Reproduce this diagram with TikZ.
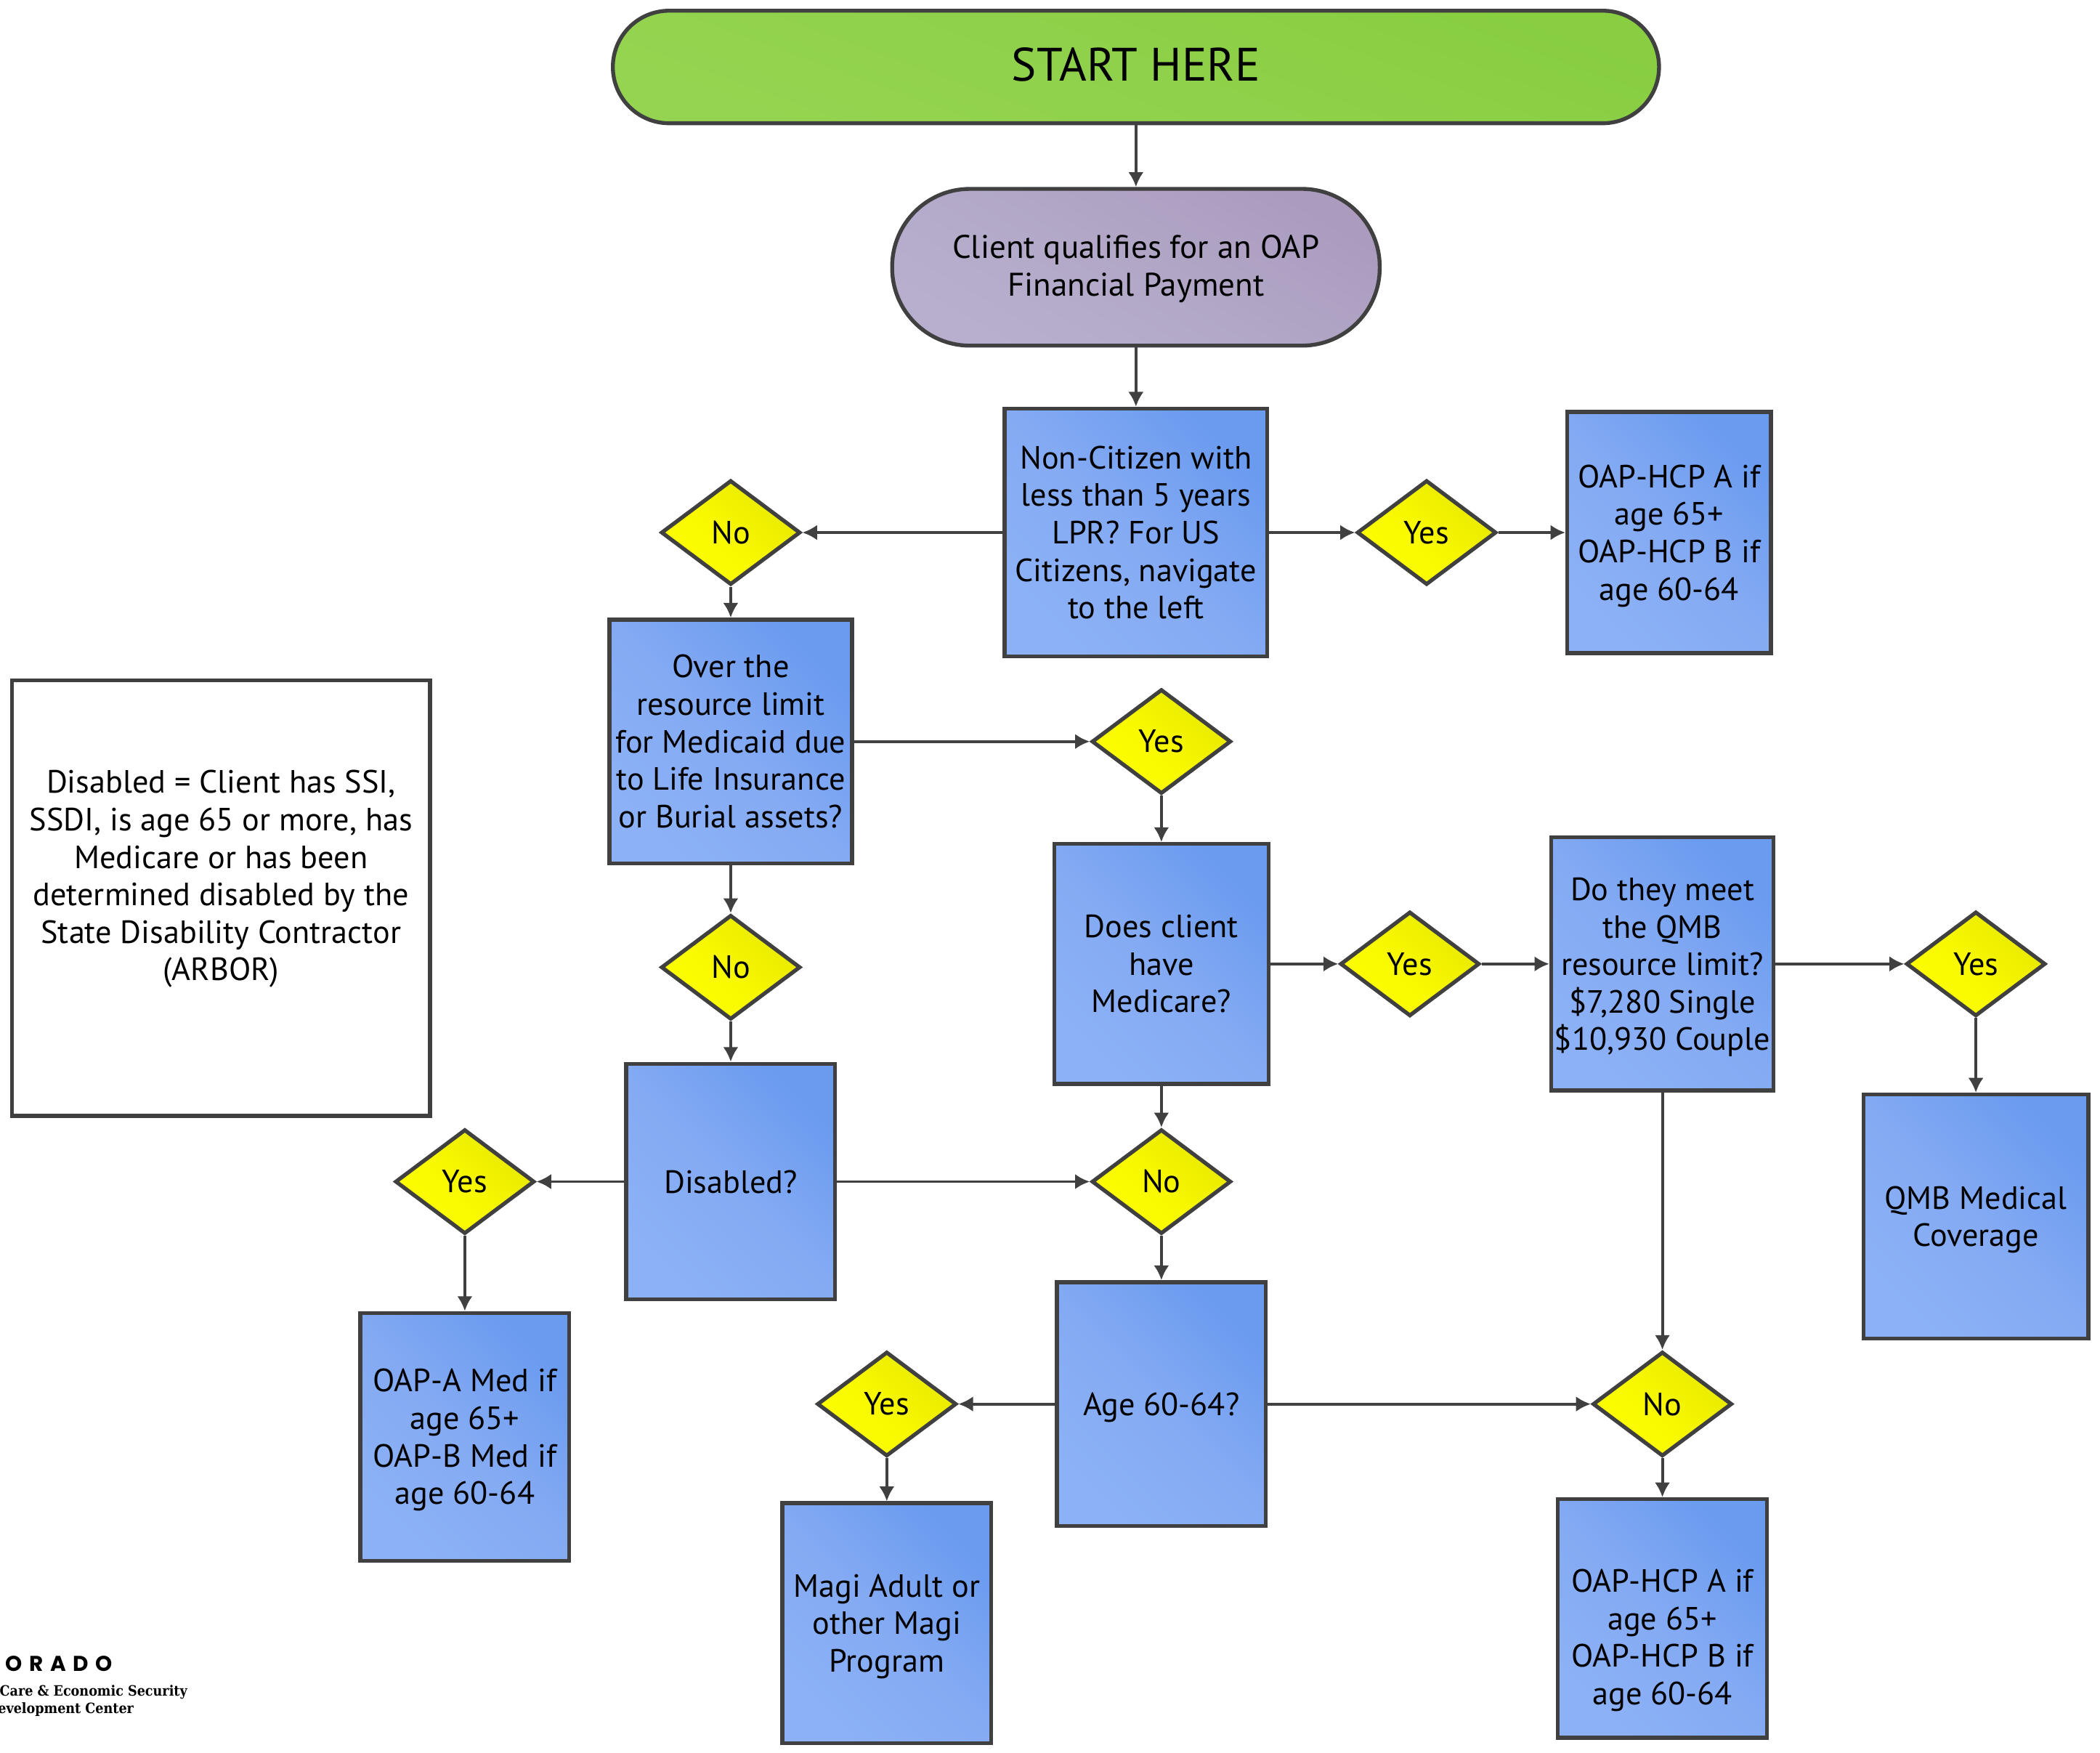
\documentclass[tikz,border=0pt]{standalone}
\usepackage{fontspec}
\setmainfont{PT Sans}
\newfontfamily\logosans[LetterSpace=32]{Poppins}
\newfontfamily\logoslab{DejaVu Serif Condensed}
\usetikzlibrary{arrows.meta,shapes.geometric}
\definecolor{edgegray}{HTML}{404040}
\definecolor{boxdark}{HTML}{6A9BEF}
\definecolor{boxmid}{HTML}{84AAF3}
\definecolor{boxlight}{HTML}{8CB1F6}
\definecolor{yndark}{HTML}{E8E800}
\definecolor{ynmid}{HTML}{F7F700}
\definecolor{ynlight}{HTML}{FFFF00}
\definecolor{startdark}{HTML}{88CE40}
\definecolor{startmid}{HTML}{8FD14A}
\definecolor{startlight}{HTML}{95D450}
\definecolor{clientdark}{HTML}{AB9CBF}
\definecolor{clientmid}{HTML}{B2A7C7}
\definecolor{clientlight}{HTML}{B8AFCF}
\tikzset{
  base/.style={draw=edgegray, line width=2.9pt, align=center, inner sep=0pt, text=black, font=\fontsize{24}{28}\selectfont},
  qbox/.style={base, rectangle, top color=boxdark, bottom color=boxlight, middle color=boxmid, shading angle=-45},
  pill/.style={base, rectangle, rounded corners=#1},
  yn/.style={base, diamond, shape aspect=1.33, minimum width=104pt, minimum height=78pt, top color=yndark, bottom color=ynlight, middle color=ynmid, shading angle=-45},
  link/.style={draw=edgegray, line width=2.1pt, -{Latex[length=11pt,width=11.5pt]}},
  logoname/.style={anchor=east, inner sep=0pt, text=black}
}
\newcommand\droptext[1]{\rule{0pt}{#1pt}}
\begin{document}
\begin{tikzpicture}[x=1pt,y=-1pt]
\useasboundingbox (0,0) rectangle (1567.7,1308);
\node[pill=42pt, minimum width=781pt, minimum height=84pt, top color=startdark, bottom color=startlight, middle color=startmid, shading angle=-20, font=\fontsize{35}{40}\selectfont] (start) at (848,50){START HERE\rule[-4pt]{0pt}{4pt}};
\node[pill=58pt, minimum width=364pt, minimum height=117pt, top color=clientdark, bottom color=clientlight, middle color=clientmid, shading angle=-30, font=\fontsize{24.4}{28}\selectfont] (client) at (848,199.5){\droptext{20}Client qualifies for an OAP\\Financial Payment};
\node[qbox, minimum width=196pt, minimum height=185pt] (box0) at (848,397.5){Non-Citizen with\\less than 5 years\\LPR? For US\\Citizens, navigate\\to the left};
\node[qbox, minimum width=152pt, minimum height=180pt] (box1) at (1246,397.5){\droptext{22}OAP-HCP A if\\age 65+\\OAP-HCP B if\\age 60-64};
\node[qbox, minimum width=181pt, minimum height=182pt] (box2) at (545.5,553.5){Over the\\resource limit\\for Medicaid due\\to Life Insurance\\or Burial assets?};
\node[qbox, minimum width=160pt, minimum height=179pt] (box3) at (867,719.5){Does client\\have\\Medicare?};
\node[qbox, minimum width=166pt, minimum height=189pt] (box4) at (1241,719.5){\droptext{22}Do they meet\\the QMB\\resource limit?\\\$7,280 Single\\\$10,930 Couple};
\node[qbox, minimum width=168pt, minimum height=182pt] (box5) at (1475,908){\droptext{22}QMB Medical\\Coverage};
\node[qbox, minimum width=156pt, minimum height=176pt] (box6) at (545.5,882){Disabled?};
\node[qbox, minimum width=156pt, minimum height=185pt] (box7) at (347,1072.5){\droptext{22}OAP-A Med if\\age 65+\\OAP-B Med if\\age 60-64};
\node[qbox, minimum width=156pt, minimum height=182pt] (box8) at (867,1048){\droptext{22}Age 60-64?};
\node[qbox, minimum width=156pt, minimum height=179pt] (box9) at (662,1211.5){\droptext{22}Magi Adult or\\other Magi\\Program};
\node[qbox, minimum width=156pt, minimum height=178pt] (box10) at (1241,1208){\droptext{50}OAP-HCP A if\\age 65+\\OAP-HCP B if\\age 60-64};
\node[base, fill=white, minimum width=312pt, minimum height=325pt] (note) at (165,670.5){Disabled = Client has SSI,\\SSDI, is age 65 or more, has\\Medicare or has been\\determined disabled by the\\State Disability Contractor\\(ARBOR)\\[6pt]\mbox{}};
\node[yn] (dia0) at (545.5,397.5){No};
\node[yn] (dia1) at (1065,397.5){Yes};
\node[yn] (dia2) at (867,553.5){Yes};
\node[yn] (dia3) at (545.5,722){No};
\node[yn] (dia4) at (1052.5,719.5){Yes};
\node[yn] (dia5) at (1475,719.5){Yes};
\node[yn] (dia6) at (867,882){No};
\node[yn] (dia7) at (347,882){Yes};
\node[yn] (dia8) at (662,1048){Yes};
\node[yn] (dia9) at (1241,1048){No};
\node[logoname, font=\logosans\bfseries\fontsize{16}{18}\selectfont] (logo0) at (84,1242){ORADO};
\node[logoname, font=\logoslab\bfseries\fontsize{10.6}{12}\selectfont] (logo1) at (140,1263){Care \& Economic Security};
\node[logoname, font=\logoslab\bfseries\fontsize{10.6}{12}\selectfont] (logo2) at (100,1276){evelopment Center};
\draw[link](start) -- (client);
\draw[link](client) -- (box0);
\draw[link](box0) -- (dia0);
\draw[link](box0) -- (dia1);
\draw[link](dia1) -- (box1);
\draw[link](dia0) -- (box2);
\draw[link](box2) -- (dia2);
\draw[link](box2) -- (dia3);
\draw[link](dia3) -- (box6);
\draw[link](dia2) -- (box3);
\draw[link](box3) -- (dia4);
\draw[link](dia4) -- (box4);
\draw[link](box4) -- (dia5);
\draw[link](dia5) -- (box5);
\draw[link](box3) -- (dia6);
\draw[link](box6) -- (dia6);
\draw[link](box6) -- (dia7);
\draw[link](dia7) -- (box7);
\draw[link](dia6) -- (box8);
\draw[link](box8) -- (dia8);
\draw[link](dia8) -- (box9);
\draw[link](box8) -- (dia9);
\draw[link](box4) -- (dia9);
\draw[link](dia9) -- (box10);
\end{tikzpicture}
\end{document}
